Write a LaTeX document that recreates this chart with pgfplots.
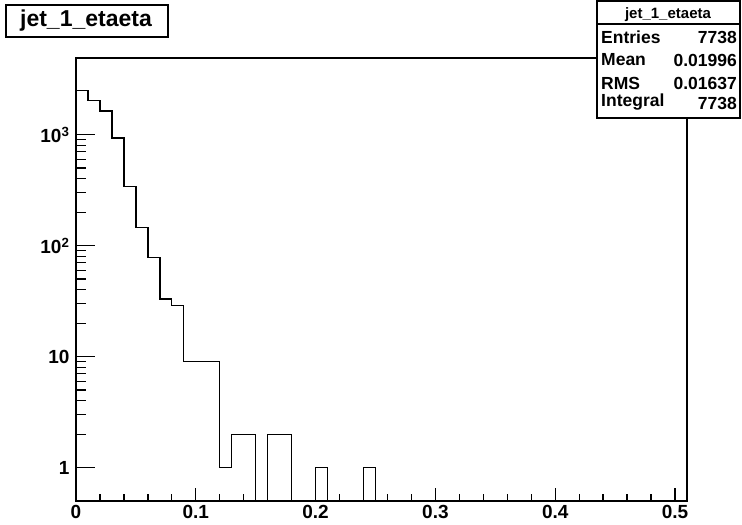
\documentclass[border=0pt]{standalone}
\usepackage{fontspec}
\setmainfont{Liberation Sans}
\usepackage{pgfplots}
\usepackage{pgfplotstable}
\pgfplotsset{compat=1.18}

% bin low edge and entries of jet_1_etaeta (bin width 0.01)
\pgfplotstableread{
x    n
0.00 2492
0.01 2015
0.02 1634
0.03 934
0.04 340
0.05 145
0.06 78
0.07 33
0.08 29
0.09 9
0.10 9
0.11 9
0.12 1
0.13 2
0.14 2
0.15 0
0.16 2
0.17 2
0.18 0
0.19 0
0.20 1
0.21 0
0.22 0
0.23 0
0.24 1
0.25 0
0.51 0
}\histdata

\begin{document}
\begin{tikzpicture}[x=1pt,y=1pt]
\useasboundingbox (0pt,0pt) rectangle (742pt,525pt);
\begin{axis}[
  at={(76pt,24pt)}, anchor=south west,
  scale only axis, width=611pt, height=443pt,
  xmin=0, xmax=0.51,
  ymode=log, ymin=0.5, ymax=4900,
  axis line style={line width=1.3pt},
  xtick={0,0.1,0.2,0.3,0.4,0.5},
  xticklabels={0,0.1,0.2,0.3,0.4,0.5},
  minor x tick num=4,
  ytick={1,10,100,1000},
  yticklabels={1,10,10\textsuperscript{2},10\textsuperscript{3}},
  xtick pos=bottom, ytick pos=left,
  tick align=inside,
  major tick length=19pt, minor tick length=10pt,
  tick style={line width=1.3pt, black},
  xtick style={/pgfplots/major tick length=13pt, /pgfplots/minor tick length=7pt},
  /pgf/number format/assume math mode=true,
  tick label style={font=\fontsize{19}{19}\selectfont\bfseries},
  xticklabel style={yshift=-1pt},
  yticklabel style={xshift=-3pt},
]
\addplot[const plot mark left, black, line width=1.3pt, no marks]
  table[x=x, y expr={max(\thisrow{n},0.01)}] {\histdata};
\end{axis}
% title box
\draw[line width=1.2pt, fill=white] (6pt,488pt) rectangle (168pt,520pt);
\node[font=\fontsize{23}{23}\selectfont\bfseries] at (86pt,504pt) {jet\_1\_etaeta};
% statistics box
\draw[line width=1.2pt, fill=white] (597pt,407pt) rectangle (740pt,524pt);
\draw[line width=1.2pt] (597pt,501pt) -- (740pt,501pt);
\node[font=\fontsize{15}{15}\selectfont\bfseries] at (668pt,510pt) {jet\_1\_etaeta};
\begin{scope}[every node/.style={font=\fontsize{17.5}{17.5}\selectfont\bfseries, inner sep=0pt}]
\node[anchor=west] at (601pt,488pt) {Entries};
\node[anchor=east] at (737pt,488pt) {7738};
\node[anchor=west] at (601pt,465pt) {Mean};
\node[anchor=east] at (737pt,465pt) {0.01996};
\node[anchor=west] at (601pt,442pt) {RMS};
\node[anchor=east] at (737pt,442pt) {0.01637};
\node[anchor=west] at (601pt,423pt) {Integral};
\node[anchor=east] at (737pt,422pt) {7738};
\end{scope}
\end{tikzpicture}
\end{document}
